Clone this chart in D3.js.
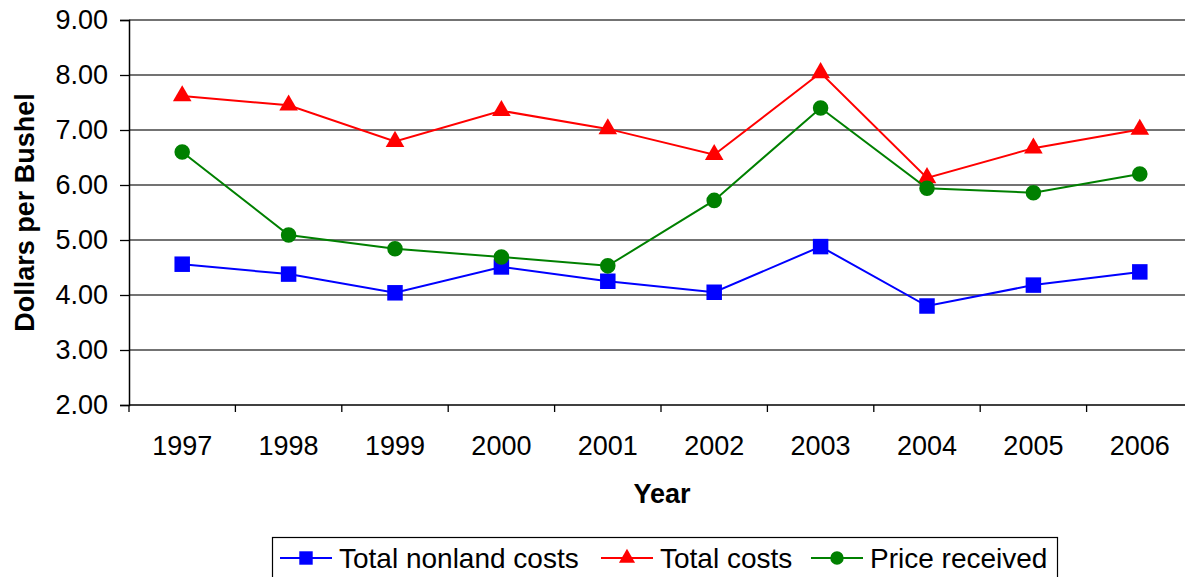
<!DOCTYPE html>
<html>
<head>
<meta charset="utf-8">
<script src="https://cdn.jsdelivr.net/npm/d3@7"></script>
<style>
  body { margin: 0; background: #fff; }
  text { font-family: Arial, "Liberation Sans", sans-serif; }
</style>
</head>
<body>
<div id="chart"></div>
<script>
// chart data
const years = ["1997", "1998", "1999", "2000", "2001", "2002", "2003", "2004", "2005", "2006"];
const nonlandCosts = [4.56, 4.38, 4.04, 4.51, 4.25, 4.05, 4.88, 3.80, 4.18, 4.42];
const totalCosts = [7.62, 7.45, 6.79, 7.35, 7.02, 6.55, 8.04, 6.13, 6.67, 7.01];
const priceReceived = [6.60, 5.09, 4.84, 4.69, 4.53, 5.72, 7.40, 5.94, 5.86, 6.20];
const yTicks = [2, 3, 4, 5, 6, 7, 8, 9];

const width = 1185, height = 577;
const margin = { left: 129, right: -8, top: 20, bottom: 172 };

const svg = d3.select("#chart").append("svg")
  .attr("width", width)
  .attr("height", height);

const x = d3.scaleBand()
  .domain(years)
  .range([margin.left, width - margin.right]);

const y = d3.scaleLinear()
  .domain([2, 9])
  .range([height - margin.bottom, margin.top]);

// gridlines
svg.append("g")
  .selectAll("line")
  .data(yTicks.filter(d => d > 2))
  .enter().append("line")
  .attr("x1", margin.left)
  .attr("x2", width)
  .attr("y1", d => y(d))
  .attr("y2", d => y(d))
  .attr("stroke", "#444")
  .attr("stroke-width", 1.3);

// y axis
const yAxis = svg.append("g")
  .attr("transform", `translate(${margin.left},0)`)
  .call(d3.axisLeft(y).tickValues(yTicks).tickFormat(d3.format(".2f")).tickSize(9).tickPadding(12));
yAxis.select(".domain").attr("stroke", "#000").attr("stroke-width", 1.5);
yAxis.selectAll(".tick line").attr("stroke", "#000").attr("stroke-width", 1.3);
yAxis.selectAll("text").attr("font-size", 27).attr("fill", "#000")
  .attr("font-family", "Arial, 'Liberation Sans', sans-serif");

// x axis, ticks between categories
const xAxisG = svg.append("g")
  .attr("transform", `translate(0,${y(2)})`);
xAxisG.append("line")
  .attr("x1", margin.left).attr("x2", width)
  .attr("stroke", "#000").attr("stroke-width", 1.5);
xAxisG.selectAll(".tk")
  .data(years)
  .enter().append("line")
  .attr("x1", d => x(d)).attr("x2", d => x(d))
  .attr("y1", 0).attr("y2", 7)
  .attr("stroke", "#000").attr("stroke-width", 1.3);
xAxisG.selectAll(".lbl")
  .data(years)
  .enter().append("text")
  .attr("x", d => x(d) + x.bandwidth() / 2)
  .attr("y", 50)
  .attr("text-anchor", "middle")
  .attr("font-size", 27)
  .text(d => d);

// axis titles
svg.append("text")
  .attr("x", 662).attr("y", 503)
  .attr("text-anchor", "middle")
  .attr("font-size", 27).attr("font-weight", "bold")
  .text("Year");

svg.append("text")
  .attr("transform", `translate(34,${(y(2) + y(9)) / 2}) rotate(-90)`)
  .attr("text-anchor", "middle")
  .attr("font-size", 27).attr("font-weight", "bold")
  .text("Dollars per Bushel");

const series = [
  { name: "Total nonland costs", values: nonlandCosts, color: "#0000ff", shape: d3.symbolSquare, size: 240 },
  { name: "Total costs", values: totalCosts, color: "#ff0000", shape: d3.symbolTriangle, size: 150 },
  { name: "Price received", values: priceReceived, color: "#008000", shape: d3.symbolCircle, size: 190 }
];

const line = d3.line()
  .x((d, i) => x(years[i]) + x.bandwidth() / 2)
  .y(d => y(d));

series.forEach(function (s) {
  svg.append("path")
    .datum(s.values)
    .attr("d", line)
    .attr("fill", "none")
    .attr("stroke", s.color)
    .attr("stroke-width", 2);

  svg.append("g")
    .selectAll("path")
    .data(s.values)
    .enter().append("path")
    .attr("transform", (d, i) => `translate(${x(years[i]) + x.bandwidth() / 2},${y(d)})`)
    .attr("d", d3.symbol().type(s.shape).size(s.size))
    .attr("fill", s.color);
});

// legend
const legend = svg.append("g");
legend.append("rect")
  .attr("x", 272.5).attr("y", 537.5)
  .attr("width", 785).attr("height", 45)
  .attr("fill", "#fff").attr("stroke", "#000").attr("stroke-width", 1.2);

const legendX = [280, 601, 811];
series.forEach(function (s, i) {
  const g = legend.append("g").attr("transform", `translate(${legendX[i]},558)`);
  g.append("line")
    .attr("x1", 0).attr("x2", 52)
    .attr("stroke", s.color).attr("stroke-width", 2);
  g.append("path")
    .attr("transform", "translate(26,0)")
    .attr("d", d3.symbol().type(s.shape).size(s.size * 0.75))
    .attr("fill", s.color);
  g.append("text")
    .attr("x", 59).attr("y", 10)
    .attr("font-size", 28)
    .text(s.name);
});
</script>
</body>
</html>
